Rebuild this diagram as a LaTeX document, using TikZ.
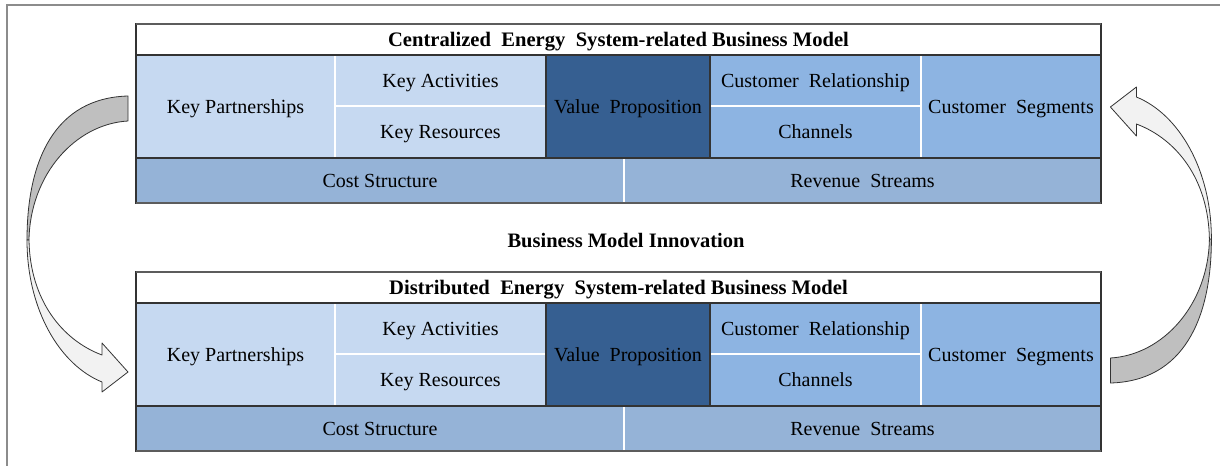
\documentclass[tikz,border=0pt]{standalone}
\usepackage{fontspec}
\setmainfont{Liberation Serif}
\definecolor{lightcell}{HTML}{C6D9F1}
\definecolor{vpcell}{HTML}{365F91}
\definecolor{custcell}{HTML}{8DB4E2}
\definecolor{costcell}{HTML}{95B3D7}
\definecolor{gridline}{HTML}{333333}
\definecolor{arrowback}{HTML}{BFBFBF}
\definecolor{arrowfront}{HTML}{F2F2F2}
\definecolor{framegray}{HTML}{8C8C8C}
\newcommand\bmcfont{\fontsize{20}{24}\selectfont}
\newcommand\bmcbold{\fontsize{20.5}{24}\selectfont\bfseries}
\newcommand\bmctitle{\fontsize{20.6}{24}\selectfont\bfseries}
\newcommand\bmctable[3]{%
  \node[cell, fill=white, minimum width=965pt, minimum height=31pt, font=\bmctitle] (#1title) at (618.5,#2+15.5) {#3};
  \node[cell, fill=lightcell, minimum width=199pt, minimum height=103pt] (#1kp) at (235.5,#2+82.5) {Key Partnerships};
  \node[cell, fill=lightcell, minimum width=211pt, minimum height=51pt] (#1ka) at (440.5,#2+56.5) {Key Activities};
  \node[cell, fill=lightcell, minimum width=211pt, minimum height=52pt] (#1kr) at (440.5,#2+108) {Key Resources};
  \node[cell, fill=vpcell, minimum width=164pt, minimum height=103pt] (#1vp) at (628,#2+82.5) {Value\ \ Proposition};
  \node[cell, fill=custcell, minimum width=211pt, minimum height=51pt] (#1cr) at (815.5,#2+56.5) {Customer\ \ Relationship};
  \node[cell, fill=custcell, minimum width=211pt, minimum height=52pt] (#1ch) at (815.5,#2+108) {Channels};
  \node[cell, fill=custcell, minimum width=180pt, minimum height=103pt] (#1cs) at (1011,#2+82.5) {Customer\ \ Segments};
  \node[cell, fill=costcell, minimum width=488pt, minimum height=45pt] (#1cost) at (380,#2+156.5) {Cost Structure};
  \node[cell, fill=costcell, minimum width=477pt, minimum height=45pt] (#1rev) at (862.5,#2+156.5) {Revenue\ \ Streams};
  \draw[innerline] (#1kp.north east) -- (#1kp.south east);
  \draw[innerline] (#1ka.south west) -- (#1ka.south east);
  \draw[innerline] (#1cr.south west) -- (#1cr.south east);
  \draw[innerline] (#1cs.north west) -- (#1cs.south west);
  \draw[innerline] (#1cost.north east) -- (#1cost.south east);
  \draw[outerline] (#1vp.north west) -- (#1vp.south west);
  \draw[outerline] (#1vp.north east) -- (#1vp.south east);
  \draw[outerline] (#1title.south west) -- (#1title.south east);
  \draw[outerline] (#1kp.south west) -- (#1cs.south east);
  \draw[outerline] (#1title.north west) rectangle (#1rev.south east);
  \draw[edgeline] (#1title.north west) -- (#1title.north east);
  \draw[edgeline] (#1cost.south west) -- (#1rev.south east);
}
\begin{document}
\begin{tikzpicture}[x=1pt,y=-1pt,
  cell/.style={inner sep=0pt, outer sep=0pt, font=\bmcfont, text=black, text depth=0pt},
  innerline/.style={draw=white, line width=1.2pt},
  outerline/.style={draw=gridline, line width=1.2pt},
  edgeline/.style={draw=gridline!80!white, line width=2pt},
  arrowline/.style={draw=gridline, line width=0.8pt, line join=round}]
\useasboundingbox (0,0) rectangle (1220,466);
\draw[framegray, line width=1.5pt] (1220,5) -- (7,5) -- (7,466);

\bmctable{t}{24}{Centralized\ \ Energy\ \ System-related Business Model}
\bmctable{b}{272}{Distributed\ \ Energy\ \ System-related Business Model}

\node[font=\bmcbold, inner sep=0pt] (bmi) at (626,241) {Business Model Innovation};

% left curved arrow (top -> bottom)
\fill[arrowback, arrowline] (128,96) .. controls (55,98) and (27,160) .. (27,240)
  -- (29,240) .. controls (30,175) and (75,124) .. (128,121) -- cycle;
\fill[arrowfront, arrowline] (27,240) .. controls (27,310) and (60,365) .. (102,382)
  -- (102,392) -- (128,372) -- (102,343) -- (102,355)
  .. controls (62,340) and (30,300) .. (29,240) -- cycle;

% right curved arrow (bottom -> top), point-symmetric
\begin{scope}[rotate around={180:(619.2,239.5)}]
\fill[arrowback, arrowline] (128,96) .. controls (55,98) and (27,160) .. (27,240)
  -- (29,240) .. controls (30,175) and (75,124) .. (128,121) -- cycle;
\fill[arrowfront, arrowline] (27,240) .. controls (27,310) and (60,365) .. (102,382)
  -- (102,392) -- (128,372) -- (102,343) -- (102,355)
  .. controls (62,340) and (30,300) .. (29,240) -- cycle;
\end{scope}
\end{tikzpicture}
\end{document}
